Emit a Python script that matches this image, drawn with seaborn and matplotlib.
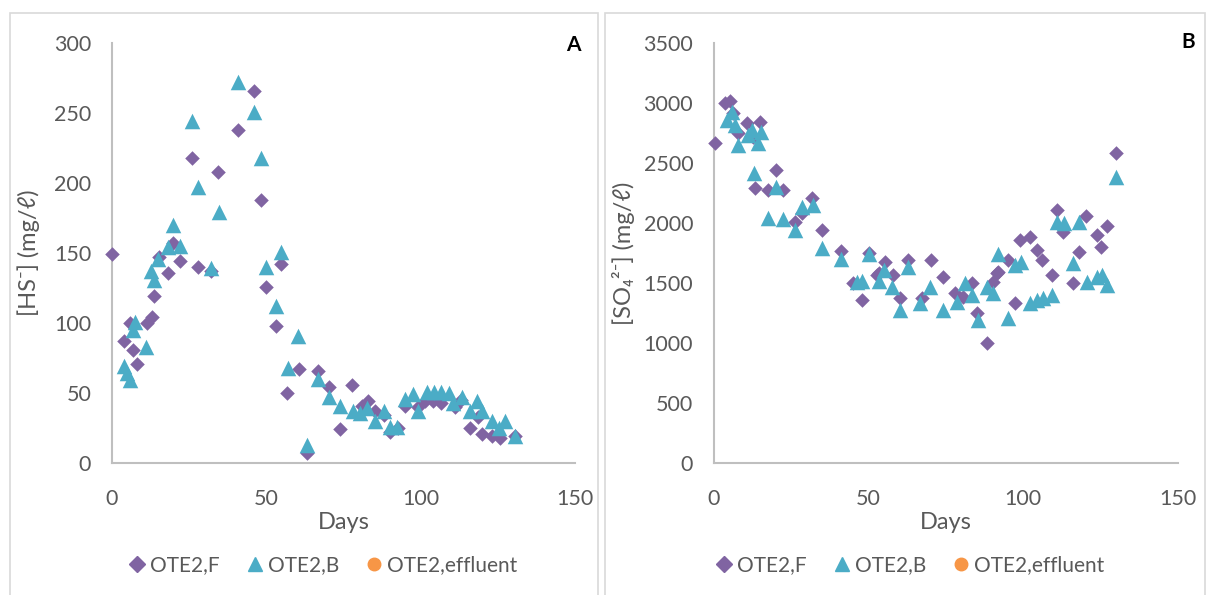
import matplotlib
matplotlib.use("Agg")
import matplotlib.pyplot as plt
import seaborn as sns
import pandas as pd
import numpy as np
from matplotlib.lines import Line2D
from matplotlib.patches import Rectangle

# ---------------- data ----------------
hs_f_days = [0, 3.9, 5.8, 6.9, 8, 11.2, 12.8, 13.6, 15.3, 18.2, 19.7, 22, 25.8, 28, 32, 34.4,
             40.9, 46, 48.2, 49.9, 53, 54.7, 56.8, 60.7, 63.3, 66.8, 70.4, 73.9, 77.6, 80.9,
             83, 85.2, 88.1, 90, 92.8, 94.9, 99.2, 101.5, 104, 106.5, 111, 113, 116, 118.7,
             119.8, 123, 125.7, 130.5]
hs_f_vals = [149, 87, 100, 81, 71, 100, 104.5, 119.5, 147, 136, 157, 144, 218, 140, 137, 208,
             238, 266, 188, 126, 98, 142, 50, 67, 7, 66, 54, 24, 56, 41,
             44, 37, 34, 22, 25, 41, 40, 44, 44, 43, 40, 45, 25, 33,
             21, 19, 18, 19]

hs_b_days = [3.9, 5, 5.8, 6.9, 7.5, 10.9, 12.5, 13.6, 15, 18, 19.9, 22, 25.8, 28, 32, 34.8,
             40.9, 46, 48.3, 49.8, 53, 54.7, 57, 60.4, 63.3, 66.8, 70.4, 73.9, 78, 80.3,
             82.7, 85.2, 88.1, 90, 92.4, 94.9, 97.4, 99.2, 102, 104.3, 106.5, 109.3, 110.6,
             113.3, 116, 118.3, 120, 123, 125.5, 127.3, 130.5]
hs_b_vals = [69, 64, 59, 95, 101, 83, 137, 131, 146, 154, 170, 155, 244, 197, 139, 179,
             272, 251, 218, 140, 112, 151, 68, 91, 13, 60, 47, 41, 37, 36,
             39, 30, 37, 26, 26, 46, 49, 37, 51, 51, 51, 50, 43,
             47, 37, 44, 37, 30, 25, 30, 19]

so4_f_days = [0.3, 3.6, 5.2, 6.2, 7.9, 10.6, 12.7, 14.9, 13.3, 17.6, 19.9, 22.4, 26.2, 28.4,
              31.6, 35, 41, 45, 47.9, 50, 52.6, 53.2, 55.2, 57.8, 60.1, 62.8, 67.1, 70, 73.9,
              77.9, 80.6, 83.3, 85.1, 88.2, 90.3, 91.4, 91.9, 95.1, 97.3, 98.9, 102.2, 104.3,
              105.9, 109.2, 111, 112.9, 116.2, 118.1, 120.3, 123.7, 125.1, 127.2, 130]
so4_f_vals = [2664, 3002, 3019, 2914, 2747, 2831, 2719, 2844, 2289, 2275, 2442, 2275, 2011, 2086,
              2206, 1942, 1770, 1497, 1358, 1752, 1567, 1581, 1678, 1567, 1372, 1692, 1372, 1692, 1553,
              1419, 1386, 1497, 1247, 997, 1511, 1581, 1594, 1692, 1331, 1858, 1881, 1775,
              1692, 1567, 2108, 1928, 1497, 1761, 2058, 1900, 1803, 1975, 2581]

so4_b_days = [4.1, 5.7, 6.8, 7.9, 11, 12.2, 12.9, 14.1, 15.2, 17.6, 19.9, 22.2, 26.2, 28.4,
              31.9, 34.8, 41, 46.1, 47.9, 50, 53.2, 55.1, 57.5, 60.1, 62.8, 66.6, 69.8, 74.1,
              78.5, 81.1, 83.3, 85.5, 88.4, 90.3, 91.9, 95.1, 97.3, 99.2, 102.2, 104.3, 106.3,
              109.2, 110.8, 113.2, 116.2, 118.1, 120.5, 123.7, 125.4, 127, 130]
so4_b_vals = [2858, 2928, 2817, 2650, 2733, 2775, 2419, 2664, 2761, 2039, 2303, 2031, 1942, 2136,
              2150, 1789, 1700, 1511, 1519, 1740, 1519, 1608, 1469, 1275, 1630, 1331, 1469, 1275,
              1344, 1503, 1400, 1192, 1469, 1414, 1740, 1206, 1650, 1678, 1331, 1358, 1372,
              1400, 2011, 2003, 1664, 2011, 1511, 1553, 1567, 1483, 2386]

series_names = ["OTE2,F", "OTE2,B", "OTE2,effluent"]
x_ticks = [0, 50, 100, 150]
hs_ticks = [0, 50, 100, 150, 200, 250, 300]
so4_ticks = [0, 500, 1000, 1500, 2000, 2500, 3000, 3500]

# ---------------- style ----------------
sns.set_theme(style="white")
plt.rcParams['font.family'] = ['Lato', 'DejaVu Sans']
colors = {"OTE2,F": "#8064A2", "OTE2,B": "#4BACC6", "OTE2,effluent": "#F79646"}
markers = {"OTE2,F": "D", "OTE2,B": "^", "OTE2,effluent": "o"}
sizes = {"OTE2,F": 55, "OTE2,B": 125}
grey_txt = "#595959"
spine_c = "#BFBFBF"

def make_df(fd, fv, bd, bv):
    return pd.concat([
        pd.DataFrame({"day": fd, "val": fv, "series": "OTE2,F"}),
        pd.DataFrame({"day": bd, "val": bv, "series": "OTE2,B"}),
    ], ignore_index=True)

df_hs = make_df(hs_f_days, hs_f_vals, hs_b_days, hs_b_vals)
df_so4 = make_df(so4_f_days, so4_f_vals, so4_b_days, so4_b_vals)

fig = plt.figure(figsize=(12.08, 5.95), dpi=100)
W, H = 1208, 595

# panel frames
for (x0, x1) in [(10, 598), (605, 1205)]:
    fig.patches.append(Rectangle((x0 / W, -0.05), (x1 - x0) / W, (595 - 13) / H + 0.05,
                                 transform=fig.transFigure, fill=False,
                                 edgecolor="#D9D9D9", linewidth=1.2, zorder=0))

def pos(xl, xr, yt, yb):
    return [xl / W, 1 - yb / H, (xr - xl) / W, (yb - yt) / H]

ax1 = fig.add_axes(pos(112, 575, 43, 463))
ax2 = fig.add_axes(pos(714, 1178, 43, 463))

for ax, df, ymax, yt, ylabel, lpad in [
    (ax1, df_hs, 300, hs_ticks, "[HS\u207b] (mg/\u2113)", 10),
    (ax2, df_so4, 3500, so4_ticks, "[SO\u2084\u00b2\u207b] (mg/\u2113)", 6),
]:
    for name in ["OTE2,F", "OTE2,B"]:
        sub = df[df["series"] == name]
        sns.scatterplot(data=sub, x="day", y="val", ax=ax, color=colors[name],
                        marker=markers[name], s=sizes[name], linewidth=0,
                        legend=False, clip_on=False, zorder=3)
    ax.set_xlim(0, 150)
    ax.set_ylim(0, ymax)
    ax.set_xticks(x_ticks)
    ax.set_yticks(yt)
    ax.tick_params(axis="both", length=0, labelsize=15.5, labelcolor=grey_txt)
    ax.tick_params(axis="x", pad=19)
    ax.tick_params(axis="y", pad=15)
    for s in ["top", "right"]:
        ax.spines[s].set_visible(False)
    for s in ["left", "bottom"]:
        ax.spines[s].set_color(spine_c)
        ax.spines[s].set_linewidth(1.5)
    ax.set_xlabel("Days", fontsize=17, color=grey_txt, labelpad=2)
    ax.set_ylabel(ylabel, fontsize=17, color=grey_txt, labelpad=lpad)
    ax.patch.set_alpha(0)

fig.text(573 / W, 1 - 45 / H, "A", fontsize=15, fontweight="bold", ha="center", va="center", color="black")
fig.text(1188 / W, 1 - 42 / H, "B", fontsize=15, fontweight="bold", ha="center", va="center", color="black")

handles = [Line2D([], [], linestyle="none", marker=markers[n], color=colors[n],
                  markersize={"OTE2,F": 8, "OTE2,B": 10, "OTE2,effluent": 9}[n], label=n)
           for n in series_names]
for cx in [322 / W, 909 / W]:
    fig.legend(handles=handles, loc="center", bbox_to_anchor=(cx, 1 - 565 / H), ncol=3,
               frameon=False, fontsize=15, labelcolor=grey_txt, handletextpad=0.1,
               columnspacing=1.2, handlelength=1.0)

fig.savefig("out.png", dpi=100)
